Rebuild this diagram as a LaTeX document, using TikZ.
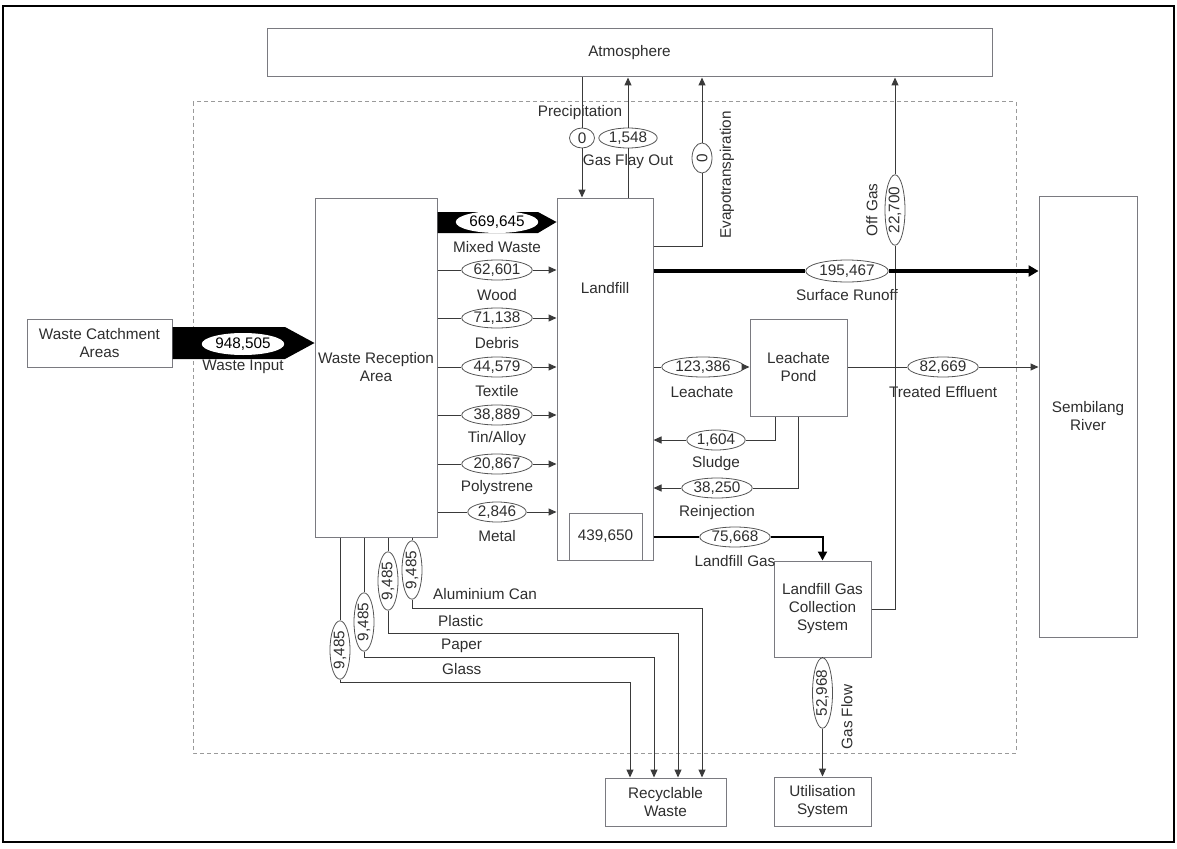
\documentclass[tikz,border=0pt]{standalone}
\usepackage{fontspec}
\setmainfont{Liberation Sans}
\usetikzlibrary{arrows.meta,shapes.geometric,calc}
\definecolor{boxc}{HTML}{7A7A80}
\definecolor{linec}{HTML}{3A3A3A}
\definecolor{ellc}{HTML}{555555}
\definecolor{txt}{HTML}{2E2E2E}
\definecolor{dashc}{HTML}{9A9A9A}
\begin{document}
\begin{tikzpicture}[x=1pt,y=-1pt,
  every node/.style={font=\fontsize{15.3}{18}\selectfont, text=txt},
  box/.style={draw=boxc, line width=1pt, inner sep=0pt, align=center, fill=white},
  ell/.style={ellipse, draw=ellc, fill=white, line width=0.8pt, inner xsep=1.5pt, inner ysep=0pt, minimum height=20pt, minimum width=25pt},
  wellip/.style={ellipse, fill=white, inner xsep=1.5pt, inner ysep=0pt, minimum height=22pt, text=black},
  conn/.style={draw=linec, line width=1pt},
  arr/.style={-{Triangle[length=8pt,width=7pt]}},
  lbl/.style={inner sep=0pt},
]
\useasboundingbox (0,0) rectangle (1177,848);
\draw[line width=2pt] (3,6) rectangle (1174,842);
\draw[dashc, line width=1pt, dash pattern=on 4pt off 3pt] (193,102) rectangle (1016,753);

% boxes
\node[box, minimum width=725pt, minimum height=48pt] (atm) at (629.5,53) {Atmosphere};
\node[box, minimum width=145pt, minimum height=48pt] (wca) at (99.5,343) {Waste Catchment\\Areas};
\node[box, minimum width=122pt, minimum height=339pt] (wra) at (376,367.5) {Waste Reception\\Area};
\node[box, minimum width=96pt, minimum height=362pt] (lf) at (605,379) {};
\node[lbl] (lftxt) at (605,288) {Landfill};
\node[box, minimum width=73pt, minimum height=47pt] (lfin) at (605.5,536.5) {439,650};
\node[box, minimum width=97pt, minimum height=97pt] (pond) at (798.5,367.5) {Leachate\\Pond};
\node[box, minimum width=97pt, minimum height=96pt] (lfg) at (822.5,609) {Landfill Gas\\Collection\\System};
\node[box, minimum width=97pt, minimum height=49pt] (util) at (822.5,801.5) {Utilisation\\System};
\node[box, minimum width=121pt, minimum height=48pt] (rec) at (665.5,802) {Recyclable\\Waste};
\node[box, minimum width=98pt, minimum height=441pt] (river) at (1088,416.5) {Sembilang\\River};

% thick arrows
\fill[black] (wca.east |- 0,327) -- (285,327) -- (wra.west |- wca.east) -- (285,359) -- (wca.east |- 0,359) -- cycle;
\fill[black] (wra.east |- 0,212) -- (538,212) -- (lf.west |- 0,222) -- (538,233) -- (wra.east |- 0,233) -- cycle;

% ellipses
\node[wellip, minimum width=78pt] (e948) at (243,344) {948,505};
\node[wellip] (eMW) at (497,222) {669,645};
\node[ell] (eW) at (497,270) {62,601};
\node[ell] (eD) at (497,318) {71,138};
\node[ell] (eTx) at (497,367) {44,579};
\node[ell] (eTA) at (497,415) {38,889};
\node[ell] (ePS) at (497,464) {20,867};
\node[ell] (eM) at (497,512) {2,846};
\node[ell] (eP) at (582,138) {0};
\node[ell] (eG) at (628,138) {1,548};
\node[ell, rotate=90, minimum width=30pt] (eE) at (702,158) {0};
\node[ell, minimum height=22pt] (eSR) at (847,271) {195,467};
\node[ell, rotate=90] (eOG) at (895,210) {22,700};
\node[ell] (eL) at (703,367) {123,386};
\node[ell] (eT) at (943,367) {82,669};
\node[ell] (eS) at (716,440) {1,604};
\node[ell] (eR) at (717,488) {38,250};
\node[ell] (eLG) at (735,537) {75,668};
\node[ell, rotate=90] (eGF) at (822.5,693) {52,968};
\node[ell, rotate=90] (eAl) at (412,570) {9,485};
\node[ell, rotate=90] (ePl) at (388,581) {9,485};
\node[ell, rotate=90] (ePa) at (364,622) {9,485};
\node[ell, rotate=90] (eGl) at (340,650) {9,485};

% labels
\node[lbl] at (243,367) {Waste Input};
\node[lbl] at (497,247) {Mixed Waste};
\node[lbl] at (497,295) {Wood};
\node[lbl] at (497,343) {Debris};
\node[lbl] at (497,391) {Textile};
\node[lbl] at (497,439) {Tin/Alloy};
\node[lbl] at (497,488) {Polystrene};
\node[lbl] at (497,536) {Metal};
\node[lbl] at (580,113) {Precipitation};
\node[lbl] at (628,162) {Gas Flay Out};
\node[lbl, rotate=90] at (727,175) {Evapotranspiration};
\node[lbl, rotate=90] at (872,210) {Off Gas};
\node[lbl] at (847,295) {Surface Runoff};
\node[lbl] at (702,392) {Leachate};
\node[lbl] at (943,392) {Treated Effluent};
\node[lbl] at (716,464) {Sludge};
\node[lbl] at (717,513) {Reinjection};
\node[lbl] at (735,561) {Landfill Gas};
\node[lbl, rotate=90] at (847,717) {Gas Flow};
\node[lbl, anchor=west] at (433,594) {Aluminium Can};
\node[lbl, anchor=west] at (438,621) {Plastic};
\node[lbl, anchor=west] at (441,646) {Paper};
\node[lbl, anchor=west] at (442,669) {Glass};

% connectors: waste reception to landfill
\draw[conn,arr] (wra.east |- eW) -- (eW) -- (lf.west |- eW);
\draw[conn,arr] (wra.east |- eD) -- (eD) -- (lf.west |- eD);
\draw[conn,arr] (wra.east |- eTx) -- (eTx) -- (lf.west |- eTx);
\draw[conn,arr] (wra.east |- eTA) -- (eTA) -- (lf.west |- eTA);
\draw[conn,arr] (wra.east |- ePS) -- (ePS) -- (lf.west |- ePS);
\draw[conn,arr] (wra.east |- eM) -- (eM) -- (lf.west |- eM);

% atmosphere exchanges
\draw[conn,arr] (atm.south -| eP) -- (eP) -- (lf.north -| eP);
\draw[conn,arr] (lf.north -| eG) -- (eG) -- (atm.south -| eG);
\draw[conn,arr] (lf.east |- 0,246) -- (eE |- 0,246) -- (eE) -- (atm.south -| eE);
\draw[conn,arr] (lfg.east) -- (eOG |- lfg.east) -- (eOG) -- (atm.south -| eOG);

% surface runoff
\draw[black, line width=4pt, -{Triangle[length=10pt,width=11pt]}] (lf.east |- eSR) -- (eSR) -- (river.west |- eSR);

% leachate system
\draw[conn,arr] (lf.east |- eL) -- (eL) -- (pond.west |- eL);
\draw[conn,arr] (pond.east |- eT) -- (eT) -- (river.west |- eT);
\draw[conn,arr] ([xshift=-23.5pt]pond.south) -- ([xshift=-23.5pt]pond.south |- eS) -- (eS) -- (lf.east |- eS);
\draw[conn,arr] (pond.south) -- (pond.south |- eR) -- (eR) -- (lf.east |- eR);

% landfill gas
\draw[black, line width=2pt, -{Triangle[length=9pt,width=9pt]}] (lf.east |- eLG) -- (eLG) -- (lfg.north |- eLG) -- (lfg.north);
\draw[conn,arr] (lfg.south) -- (eGF) -- (util.north);

% recyclables
\draw[conn,arr] (wra.south -| eAl) -- (eAl) -- (eAl |- 0,608) -| ([xshift=36.5pt]rec.north);
\draw[conn,arr] (wra.south -| ePl) -- (ePl) -- (ePl |- 0,633) -| ([xshift=12.5pt]rec.north);
\draw[conn,arr] (wra.south -| ePa) -- (ePa) -- (ePa |- 0,657) -| ([xshift=-11.5pt]rec.north);
\draw[conn,arr] (wra.south -| eGl) -- (eGl) -- (eGl |- 0,682) -| ([xshift=-35.5pt]rec.north);
\end{tikzpicture}
\end{document}
